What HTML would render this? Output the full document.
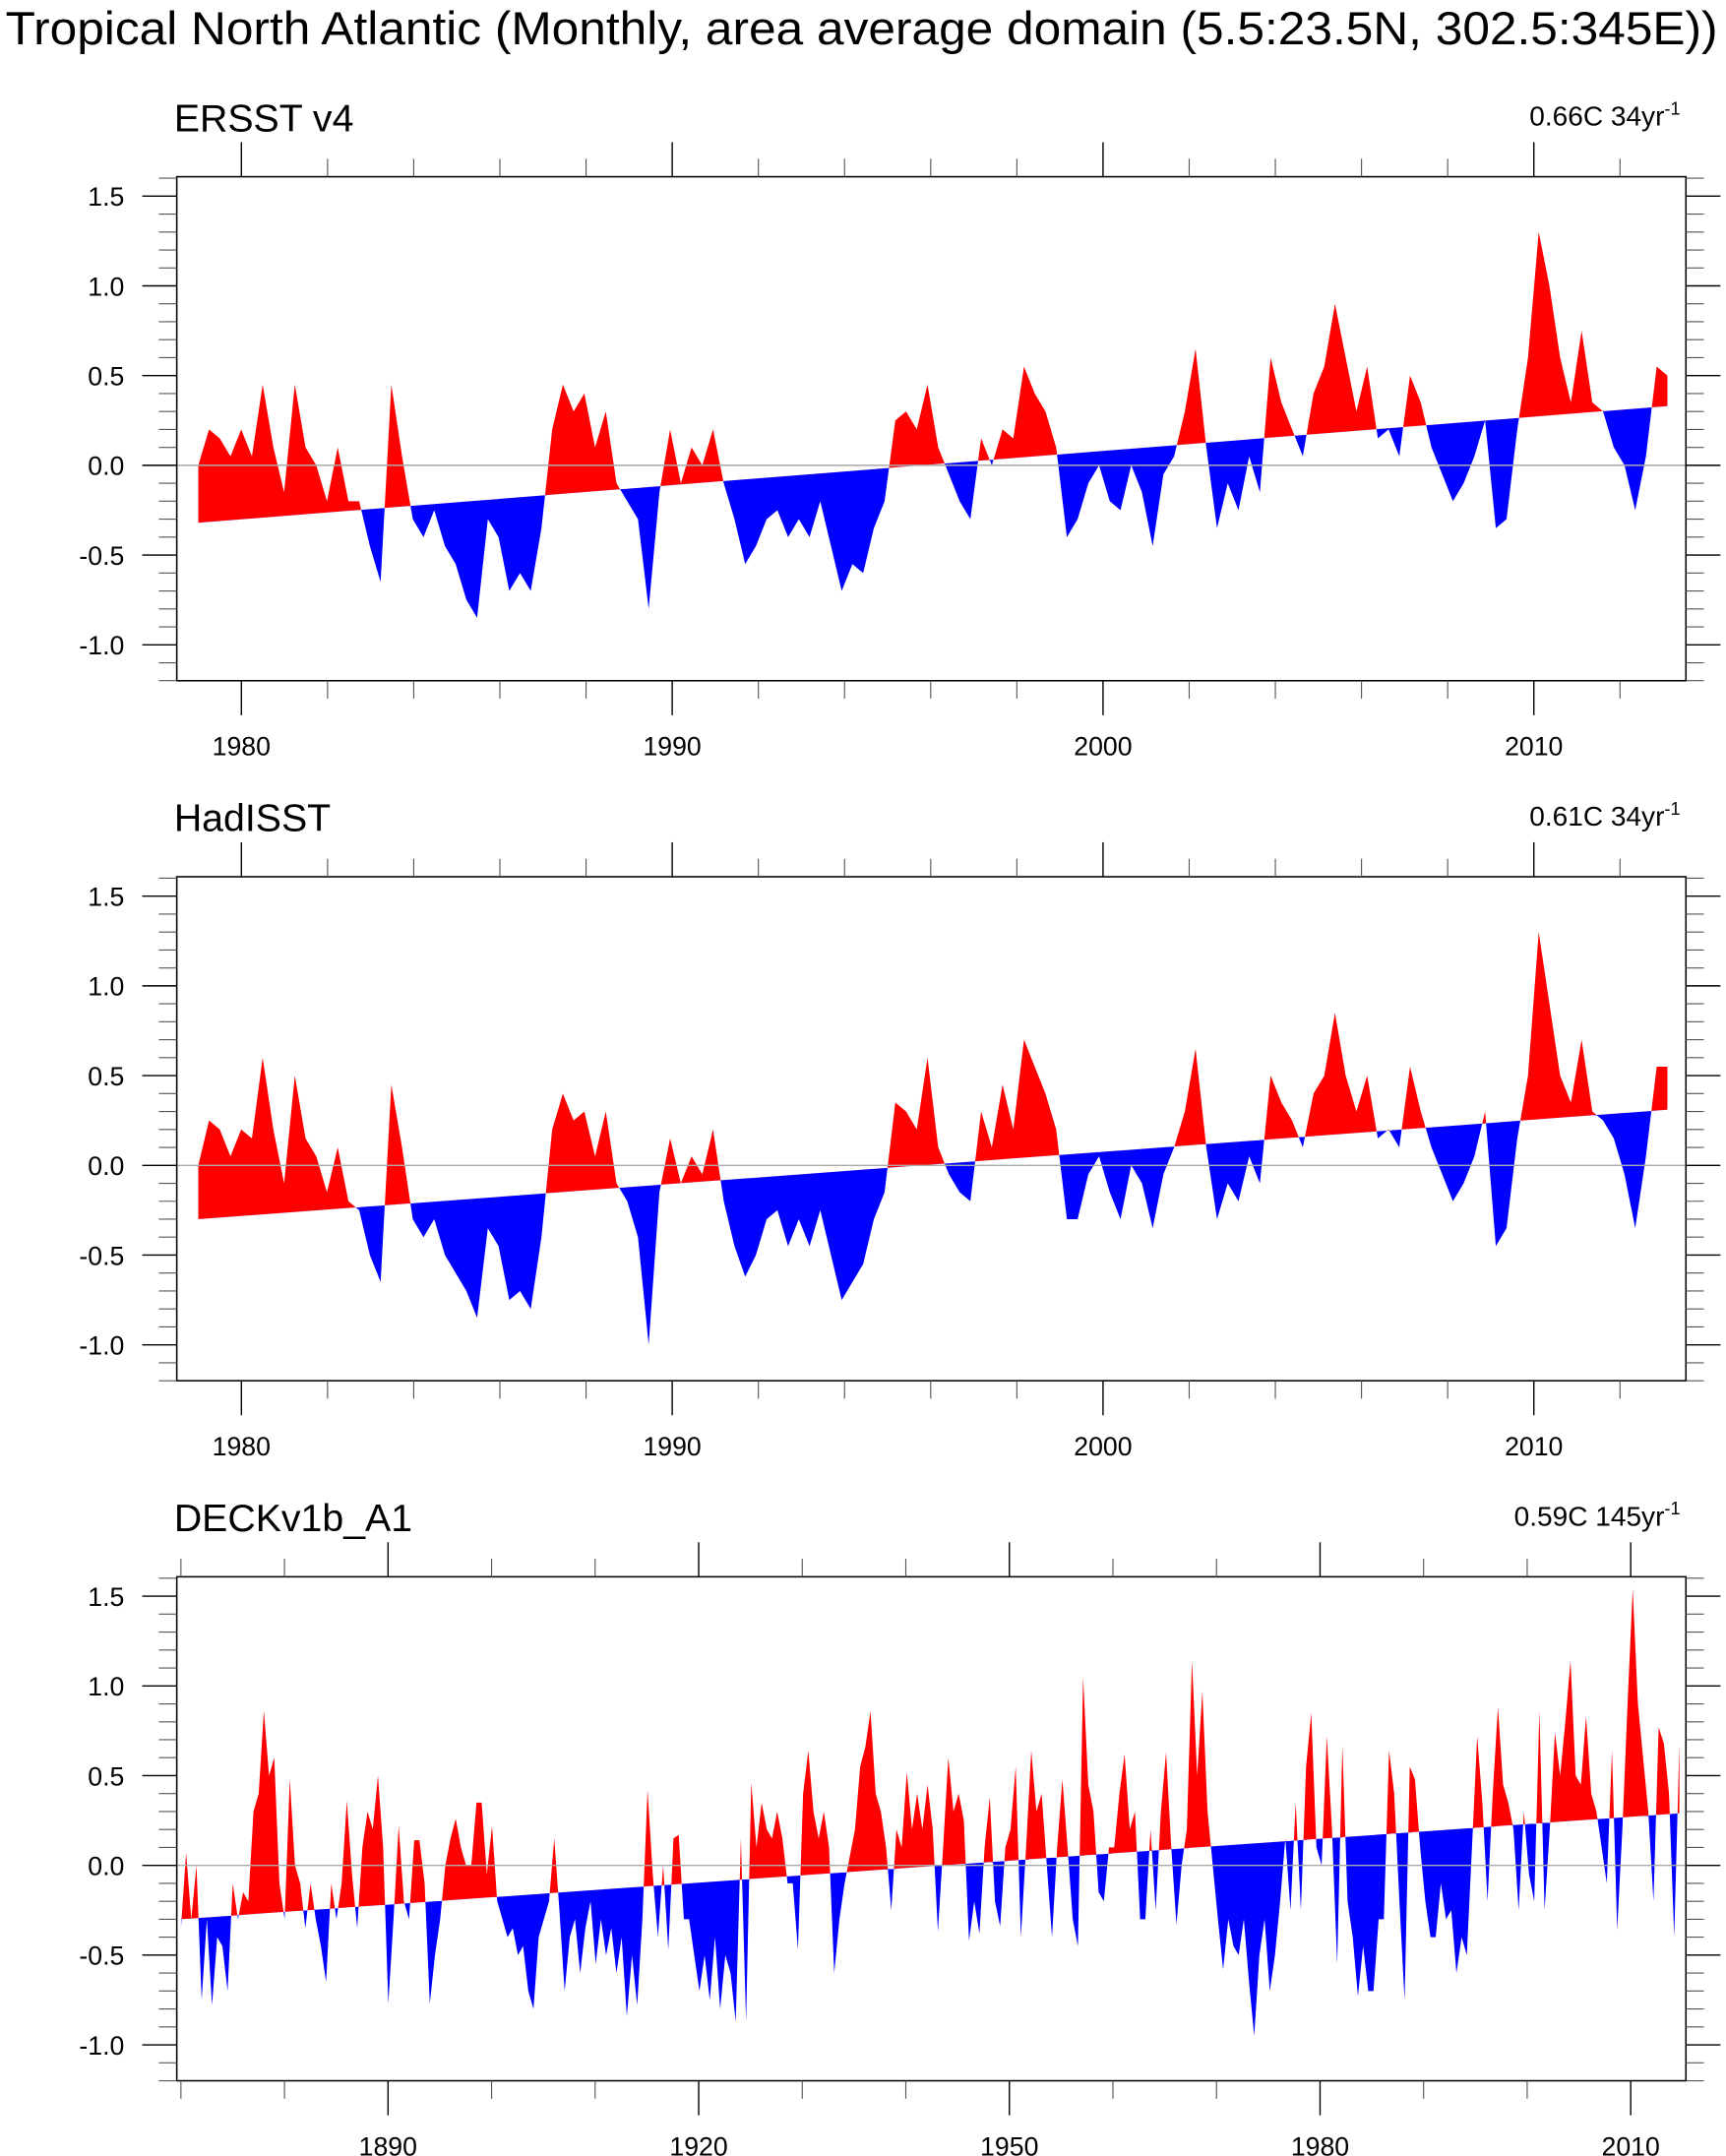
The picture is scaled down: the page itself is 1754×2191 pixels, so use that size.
<!DOCTYPE html>
<html><head><meta charset="utf-8">
<style>
html,body{margin:0;padding:0;background:#fff;}
svg{display:block;}
text{font-family:"Liberation Sans",Arial,sans-serif;fill:#000;}
</style></head>
<body>
<svg id="chart" width="1754" height="2191" viewBox="0 0 1250 1561.5" xmlns="http://www.w3.org/2000/svg">
<text x="4" y="32" font-size="34" textLength="1240" lengthAdjust="spacingAndGlyphs">Tropical North Atlantic (Monthly, area average domain (5.5:23.5N, 302.5:345E))</text>
</svg>
<script>
// ---- Panel 1: ERSST v4 (quarterly readings, 1979.0 - 2013.0) ----
const ersstValues = [
0.0,0.2,0.15,0.05, 0.2,0.05,0.45,0.1, -0.15,0.45,0.1,0.0, -0.2,0.1,-0.2,-0.2,
-0.45,-0.65,0.45,0.05, -0.3,-0.4,-0.25,-0.45, -0.55,-0.75,-0.85,-0.3, -0.4,-0.7,-0.6,-0.7,
-0.35,0.2,0.45,0.3, 0.4,0.1,0.3,-0.1, -0.2,-0.3,-0.8,-0.15, 0.2,-0.1,0.1,0.0,
0.2,-0.1,-0.3,-0.55, -0.45,-0.3,-0.25,-0.4, -0.3,-0.4,-0.2,-0.45, -0.7,-0.55,-0.6,-0.35,
-0.2,0.25,0.3,0.2, 0.45,0.1,-0.05,-0.2, -0.3,0.15,0.0,0.2, 0.15,0.55,0.4,0.3,
0.1,-0.4,-0.3,-0.1, 0.0,-0.2,-0.25,0.0, -0.15,-0.45,-0.05,0.05, 0.3,0.65,0.1,-0.35,
-0.1,-0.25,0.05,-0.15, 0.6,0.35,0.2,0.05, 0.4,0.55,0.9,0.6, 0.3,0.55,0.15,0.2,
0.05,0.5,0.35,0.1, -0.05,-0.2,-0.1,0.05, 0.25,-0.35,-0.3,0.2, 0.6,1.3,1.0,0.6,
0.35,0.75,0.35,0.3, 0.1,0.0,-0.25,0.05, 0.55,0.5];
const ersstTrend = [-0.32, 0.33];
// ---- Panel 2: HadISST ----
const hadValues = [
0.0,0.25,0.2,0.05, 0.2,0.15,0.6,0.2, -0.1,0.5,0.15,0.05, -0.15,0.1,-0.2,-0.25,
-0.5,-0.65,0.45,0.1, -0.3,-0.4,-0.3,-0.5, -0.6,-0.7,-0.85,-0.35, -0.45,-0.75,-0.7,-0.8,
-0.4,0.2,0.4,0.25, 0.3,0.05,0.3,-0.1, -0.2,-0.4,-1.0,-0.15, 0.15,-0.1,0.05,-0.05,
0.2,-0.2,-0.45,-0.62, -0.5,-0.3,-0.25,-0.45, -0.3,-0.45,-0.25,-0.5, -0.75,-0.65,-0.55,-0.3,
-0.15,0.35,0.3,0.2, 0.6,0.1,-0.05,-0.15, -0.2,0.3,0.1,0.45, 0.2,0.7,0.55,0.4,
0.2,-0.3,-0.3,-0.05, 0.05,-0.15,-0.3,0.0, -0.1,-0.35,-0.05,0.1, 0.3,0.65,0.1,-0.3,
-0.1,-0.2,0.05,-0.1, 0.5,0.35,0.25,0.1, 0.4,0.5,0.85,0.5, 0.3,0.5,0.15,0.2,
0.1,0.55,0.3,0.1, -0.05,-0.2,-0.1,0.05, 0.3,-0.45,-0.35,0.15, 0.5,1.3,0.9,0.5,
0.35,0.7,0.3,0.25, 0.15,-0.05,-0.35,0.05, 0.55,0.55];
const hadTrend = [-0.30, 0.31];
// ---- Panel 3: DECKv1b_A1 (two readings per year, 1870 - 2014) ----
const deckValues = [
-0.35,0.07, -0.3,0.0, -0.75,-0.3, -0.78,-0.4, -0.45,-0.7, -0.1,-0.3, -0.15,-0.2, 0.3,0.4, 0.86,0.5, 0.6,-0.1,
-0.3,0.48, 0.0,-0.1, -0.35,-0.1, -0.3,-0.45, -0.65,-0.1, -0.3,-0.1, 0.36,-0.05, -0.35,0.1, 0.3,0.2, 0.5,0.1,
-0.77,-0.3, 0.22,-0.2, -0.3,0.14, 0.14,-0.1, -0.77,-0.5, -0.3,0.0, 0.15,0.26, 0.1,0.0, 0.0,0.35, 0.35,-0.05,
0.22,-0.2, -0.3,-0.4, -0.35,-0.5, -0.45,-0.7, -0.8,-0.4, -0.3,-0.2, 0.15,-0.25, -0.7,-0.4, -0.3,-0.6, -0.35,-0.2,
-0.55,-0.3, -0.5,-0.35, -0.6,-0.4, -0.84,-0.5, -0.78,-0.3, 0.42,-0.05, -0.4,0.0, -0.47,0.15, 0.17,-0.3, -0.3,-0.5,
-0.7,-0.5, -0.75,-0.4, -0.8,-0.5, -0.6,-0.87, 0.15,-0.87, 0.46,0.1, 0.35,0.2, 0.15,0.3, 0.15,-0.1, -0.1,-0.47,
0.4,0.64, 0.3,0.15, 0.3,0.1, -0.6,-0.3, -0.1,0.05, 0.2,0.55, 0.66,0.86, 0.4,0.3, 0.1,-0.25, 0.2,0.1,
0.52,0.2, 0.4,0.2, 0.45,0.2, -0.37,0.1, 0.6,0.3, 0.4,0.25, -0.42,-0.2, -0.38,0.1, 0.38,-0.2, -0.34,0.1,
0.2,0.55, -0.4,0.1, 0.64,0.3, 0.4,0.0, -0.4,0.1, 0.48,0.1, -0.3,-0.45, 1.05,0.45, 0.3,-0.15, -0.2,0.1,
0.1,0.4, 0.62,0.2, 0.3,-0.3, -0.3,0.2, -0.25,0.3, 0.63,0.1, -0.33,0.0, 0.2,1.14, 0.5,0.97, 0.3,0.0,
-0.3,-0.58, -0.3,-0.45, -0.5,-0.3, -0.65,-0.95, -0.5,-0.3, -0.7,-0.5, -0.2,0.15, -0.25,0.35, -0.25,0.55, 0.85,0.1,
0.0,0.72, 0.2,-0.55, 0.67,-0.2, -0.4,-0.73, -0.45,-0.7, -0.7,-0.3, -0.3,0.64, 0.4,-0.2, -0.75,0.55, 0.48,0.1,
-0.2,-0.4, -0.4,-0.1, -0.3,-0.25, -0.6,-0.4, -0.5,0.1, 0.72,0.35, -0.2,0.4, 0.88,0.45, 0.35,0.2, -0.25,0.3,
-0.05,-0.2, 0.86,-0.25, 0.2,0.74, 0.5,0.8, 1.14,0.5, 0.45,0.83, 0.4,0.3, 0.1,-0.1, 0.64,-0.36, 0.2,0.9,
1.54,0.9, 0.6,0.3, -0.2,0.77, 0.68,0.4, -0.4,0.68];
const deckTrend = [-0.30, 0.29];
const yTickLabels = ["1.5","1.0","0.5","0.0","-0.5","-1.0"];
const yTickValues = [1.5,1.0,0.5,0.0,-0.5,-1.0];

const NS = "http://www.w3.org/2000/svg";
const svg = document.getElementById("chart");
function mk(tag, attrs, parent){
  const e = document.createElementNS(NS, tag);
  for (const k in attrs) e.setAttribute(k, attrs[k]);
  (parent||svg).appendChild(e);
  return e;
}

function panel(cfg, idx){
  const L=128, R=1221, T=cfg.top, B=cfg.top+365;
  const ymin=-1.2, ymax=1.608;
  const xs = t => L + (t-cfg.xmin)/(cfg.xmax-cfg.xmin)*(R-L);
  const ys = v => B - (v-ymin)/(ymax-ymin)*(B-T);
  const g = mk("g",{});
  
  

  const n = cfg.values.length;
  const tAt = i => cfg.t0 + i*(cfg.t1-cfg.t0)/(n-1);
  const trend = t => cfg.trend[0] + (cfg.trend[1]-cfg.trend[0])*(t-cfg.t0)/(cfg.t1-cfg.t0);

  const defs = mk("defs",{},g);
  const cu = mk("clipPath",{id:"cu"+idx},defs);
  mk("polygon",{points:`${L},${T} ${R},${T} ${xs(cfg.t1)},${ys(trend(cfg.t1))} ${xs(cfg.t0)},${ys(trend(cfg.t0))}`},cu);
  const cd = mk("clipPath",{id:"cd"+idx},defs);
  mk("polygon",{points:`${L},${B} ${R},${B} ${xs(cfg.t1)},${ys(trend(cfg.t1))} ${xs(cfg.t0)},${ys(trend(cfg.t0))}`},cd);

  let pts = [];
  for (let i=0;i<n;i++) pts.push(xs(tAt(i)).toFixed(2)+","+ys(cfg.values[i]).toFixed(2));
  pts.push(xs(cfg.t1).toFixed(2)+","+ys(trend(cfg.t1)).toFixed(2));
  pts.push(xs(cfg.t0).toFixed(2)+","+ys(trend(cfg.t0)).toFixed(2));
  const poly = pts.join(" ");
  const red = mk("polygon",{points:poly, fill:"#ff0000", "clip-path":`url(#cu${idx})`},g);
  
  
  const blue = mk("polygon",{points:poly, fill:"#0000ff", "clip-path":`url(#cd${idx})`},g);
  
  

  const z = mk("line",{x1:L,x2:R,y1:ys(0),y2:ys(0),stroke:"#aaaaaa","stroke-width":1},g);
  
  

  const fr = mk("rect",{x:L,y:T,width:R-L,height:B-T,fill:"none",stroke:"#000","stroke-width":1.1},g);
  
  

  for (let k=-12;k<=16;k++){
    const v=k/10, y=ys(v), major=(k%5===0);
    const len = major?25:13;
    mk("line",{x1:L-len,x2:L,y1:y,y2:y,stroke:major?"#000":"#555","stroke-width":major?1:0.8},g);
    mk("line",{x1:R,x2:R+len,y1:y,y2:y,stroke:major?"#000":"#555","stroke-width":major?1:0.8},g);
  }
  for (let i=0;i<yTickValues.length;i++){
    const t = mk("text",{x:90,y:ys(yTickValues[i])+7,"font-size":19,"text-anchor":"end"},g);
    t.textContent = yTickLabels[i];
    
    
  }
  for (let yr=Math.ceil(cfg.xmin); yr<=cfg.xmax; yr++){
    if (yr % cfg.minor !== 0) continue;
    const x=xs(yr), major=(yr%cfg.major===0);
    const len = major?25:13;
    mk("line",{x1:x,x2:x,y1:T-len,y2:T,stroke:major?"#000":"#555","stroke-width":major?1:0.8},g);
    mk("line",{x1:x,x2:x,y1:B,y2:B+len,stroke:major?"#000":"#555","stroke-width":major?1:0.8},g);
    if (major){
      const t = mk("text",{x:x,y:B+54,"font-size":19,"text-anchor":"middle"},g);
      t.textContent = String(yr);
      
      
    }
  }
  const st = mk("text",{x:126,y:T-33,"font-size":28},g);
  st.textContent = cfg.title;
  
  
  const an = mk("text",{x:1217,y:T-37,"font-size":20,"text-anchor":"end"},g);
  an.innerHTML = cfg.note + '<tspan font-size="13" dy="-8">-1</tspan>';
  
  
}

panel({key:"ersst", title:"ERSST v4", note:"0.66C 34yr", top:128, xmin:1978.5, xmax:2013.53, t0:1979.0, t1:2013.1, values:ersstValues, trend:ersstTrend, major:10, minor:2},0);
panel({key:"hadisst", title:"HadISST", note:"0.61C 34yr", top:635, xmin:1978.5, xmax:2013.53, t0:1979.0, t1:2013.1, values:hadValues, trend:hadTrend, major:10, minor:2},1);
panel({key:"deck", title:"DECKv1b_A1", note:"0.59C 145yr", top:1142, xmin:1869.6, xmax:2015.33, t0:1870.0, t1:2014.7, values:deckValues, trend:deckTrend, major:30, minor:10},2);
</script>
</body></html>
